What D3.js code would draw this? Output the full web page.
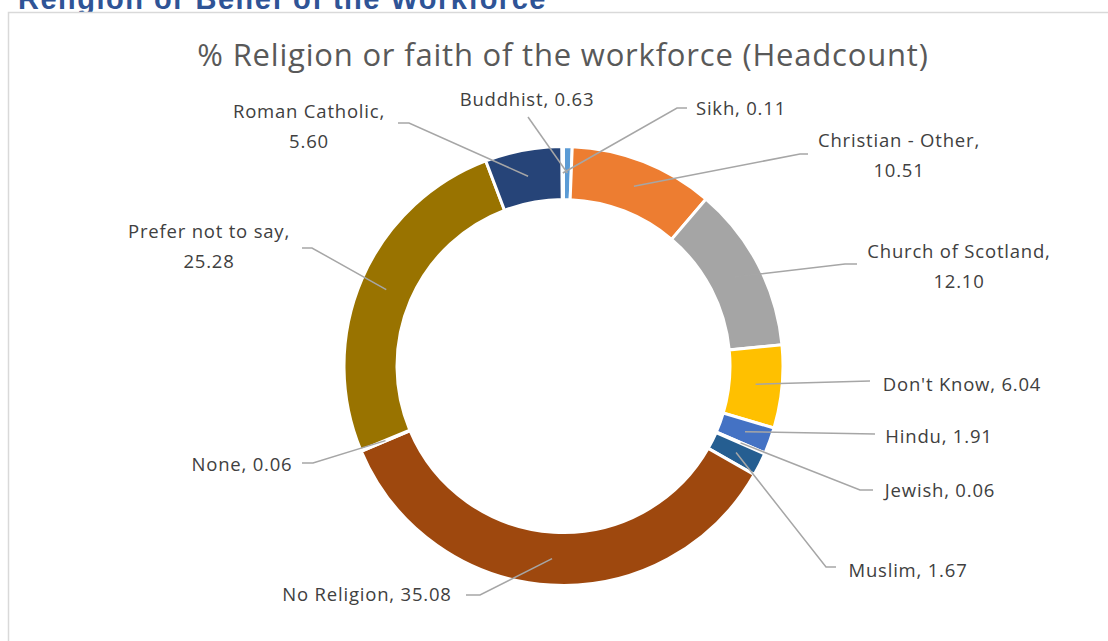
<!DOCTYPE html>
<html><head><meta charset="utf-8">
<script src="https://cdn.jsdelivr.net/npm/d3@7"></script>
<style>html,body{margin:0;padding:0;background:#fff;overflow:hidden}</style>
</head><body>
<svg id="chart" width="1108" height="641"></svg>
<script>
const categories = ["Buddhist","Christian - Other","Church of Scotland","Don't Know","Hindu","Jewish","Muslim","No Religion","None","Prefer not to say","Roman Catholic","Sikh"];
const values = [0.63,10.51,12.10,6.04,1.91,0.06,1.67,35.08,0.06,25.28,5.60,0.11];
const valueLabels = ["0.63","10.51","12.10","6.04","1.91","0.06","1.67","35.08","0.06","25.28","5.60","0.11"];
const colors = ["#5B9BD5","#ED7D31","#A5A5A5","#FFC000","#4472C4","#70AD47","#255E91","#9E480E","#636363","#997300","#264478","#43682B"];
// label layout: text centre x, first baseline y, line split, leader line points (near label)
const labelLayout = [
  {x:527, y:106, lines:["Buddhist, 0.63"], pts:[[528,117]]},
  {x:899, y:147, lines:["Christian - Other,","10.51"], pts:[[800,154],[808,154]]},
  {x:959, y:258, lines:["Church of Scotland,","12.10"], pts:[[845,264],[857,264]]},
  {x:962, y:391, lines:["Don't Know, 6.04"], pts:[[870,381]]},
  {x:939, y:443, lines:["Hindu, 1.91"], pts:[[875,434]]},
  {x:940, y:497, lines:["Jewish, 0.06"], pts:[[860,490],[873,490]]},
  {x:908, y:577, lines:["Muslim, 1.67"], pts:[[826,567],[836,567]]},
  {x:367, y:601, lines:["No Religion, 35.08"], pts:[[480,595],[466,595]]},
  {x:242, y:471, lines:["None, 0.06"], pts:[[313,463],[302,463]]},
  {x:209, y:238, lines:["Prefer not to say,","25.28"], pts:[[312,248],[302,248]]},
  {x:309, y:118, lines:["Roman Catholic,","5.60"], pts:[[409,123],[398,123]]},
  {x:741, y:115, lines:["Sikh, 0.11"], pts:[[677,108],[687,108]]}
];

const svg = d3.select("#chart");
// page heading (cut off at top)
svg.append("text").attr("x",18).attr("y",9)
  .attr("font-family","'Liberation Sans', Arial, sans-serif").attr("font-weight","bold")
  .attr("font-size",29).attr("letter-spacing",1.5).attr("fill","#2F5496").text("Religion or Belief of the Workforce");
// chart frame
svg.append("rect").attr("x",8.5).attr("y",12.5).attr("width",1200).attr("height",700)
  .attr("fill","#fff").attr("stroke","#D9D9D9").attr("stroke-width",1.5);

svg.append("text").attr("x",563).attr("y",66).attr("text-anchor","middle")
  .attr("font-family","'Open Sans', sans-serif").attr("font-size",31).attr("letter-spacing",0.8).attr("fill","#595959")
  .text("% Religion or faith of the workforce (Headcount)");

const cx = 563.5, cy = 366, rOut = 219.5, rIn = 166.5;
const data = categories.map((c,i)=>({cat:c, value:values[i], label:valueLabels[i], color:colors[i], layout:labelLayout[i]}));
const pie = d3.pie().value(d=>d.value).sort(null);
const arcs = pie(data);
const arc = d3.arc().innerRadius(rIn).outerRadius(rOut);
const g = svg.append("g").attr("transform",`translate(${cx},${cy})`);
g.selectAll("path").data(arcs).join("path")
  .attr("d",arc).attr("fill",d=>d.data.color).attr("stroke","#fff").attr("stroke-width",3);

// leader lines
const line = d3.line();
svg.append("g").selectAll("path").data(arcs).join("path")
  .attr("d",d=>{
    const c = arc.centroid(d);
    const pts = [[c[0]+cx,c[1]+cy]].concat(d.data.layout.pts);
    return line(pts);
  })
  .attr("fill","none").attr("stroke","#A6A6A6").attr("stroke-width",1.5);

// labels
const lg = svg.append("g").attr("font-family","'Open Sans', sans-serif").attr("font-size",18.5)
  .attr("letter-spacing",0.8).attr("fill","#404040");
arcs.forEach(d=>{
  const L = d.data.layout;
  const t = lg.append("text").attr("text-anchor","middle");
  L.lines.forEach((s,k)=>{
    t.append("tspan").attr("x",L.x).attr("y",L.y+k*30).text(s);
  });
});
</script>
</body></html>
